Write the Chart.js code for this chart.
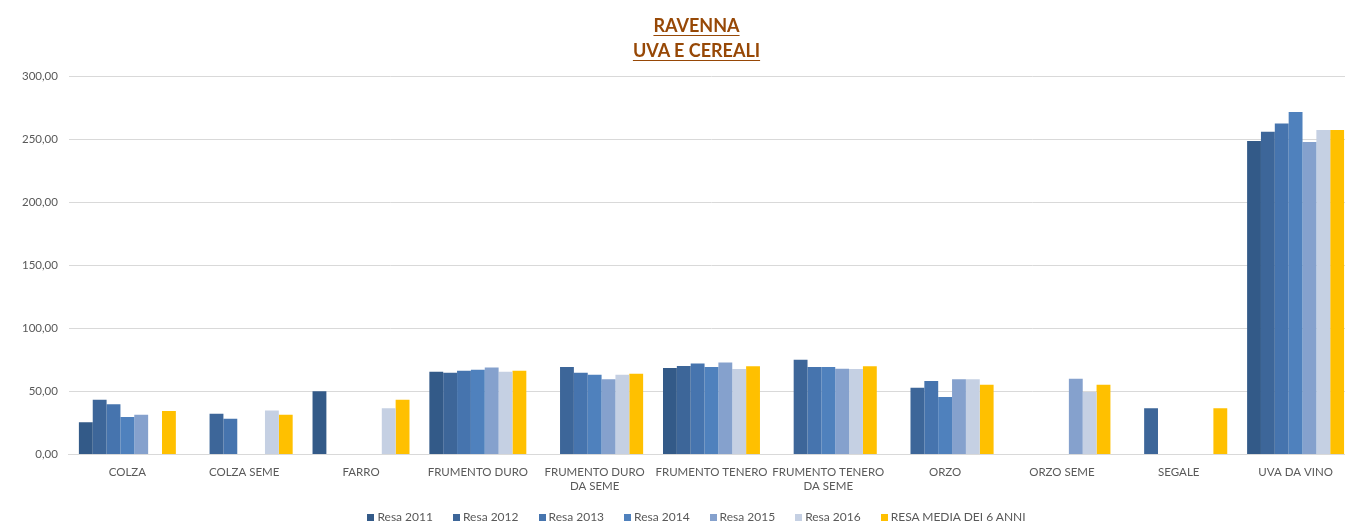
<!DOCTYPE html>
<html>
<head>
<meta charset="utf-8">
<script src="https://cdn.jsdelivr.net/npm/chart.js@4"></script>
<style>
    html, body { margin: 0; padding: 0; background: #fff; overflow: hidden; }
    #wrap { position: relative; width: 1345px; height: 523px; overflow: hidden; }
    #title {
        position: absolute; left: 24px; top: 13px; width: 1345px;
        text-align: center; font-family: Lato, sans-serif; font-weight: bold;
        font-size: 18px; line-height: 25px; color: #974806;
        text-decoration: underline; text-underline-offset: 3px;
    }
    #legend {
        position: absolute; left: 24px; top: 509px; width: 1345px;
        display: flex; justify-content: center; gap: 20px;
        font-family: Lato, sans-serif; font-size: 12px; color: #595959; line-height: 16px;
    }
    #legend span.item { display: inline-flex; align-items: center; white-space: nowrap; }
    #legend i { display: inline-block; width: 7px; height: 7px; margin-right: 3px; }
</style>
</head>
<body>
<div id="wrap">
    <!-- the original plot runs past the right edge of the picture, so the canvas is wider and clipped -->
    <canvas id="chart" width="1354" height="523"></canvas>
    <div id="title">RAVENNA<br>UVA E CEREALI</div>
    <div id="legend"></div>
</div>
<script>
// Categories and series (null = no bar)
const categories = [
    'COLZA', 'COLZA SEME', 'FARRO', 'FRUMENTO DURO', ['FRUMENTO DURO', 'DA SEME'],
    'FRUMENTO TENERO', ['FRUMENTO TENERO', 'DA SEME'], 'ORZO', 'ORZO SEME', 'SEGALE', 'UVA DA VINO'
];
const resa2011 = [25.4, null, 50.0, 65.6, null, 68.5, null, null, null, null, 248.4];
const resa2012 = [43.4, 32.3, null, 64.8, 69.3, 70.1, 75.1, 52.9, null, 36.5, 255.8];
const resa2013 = [39.7, 28.3, null, 66.4, 64.8, 72.0, 69.3, 58.2, null, null, 262.4];
const resa2014 = [29.6, null, null, 67.2, 63.2, 69.3, 69.3, 45.5, null, null, 271.4];
const resa2015 = [31.5, null, null, 68.8, 59.5, 72.8, 68.0, 59.5, 60.0, null, 247.6];
const resa2016 = [null, 34.9, 36.5, 65.6, 63.2, 67.7, 67.7, 59.5, 49.5, null, 257.1];
const resaMedia = [34.4, 31.5, 43.4, 66.4, 64.0, 69.8, 69.8, 55.3, 55.3, 36.5, 257.1];
const yTicks = [0, 50, 100, 150, 200, 250, 300];

const seriesNames = ['Resa 2011', 'Resa 2012', 'Resa 2013', 'Resa 2014', 'Resa 2015', 'Resa 2016', 'RESA MEDIA DEI 6 ANNI'];
const seriesData = [resa2011, resa2012, resa2013, resa2014, resa2015, resa2016, resaMedia];
const seriesColors = ['#335A88', '#3D6699', '#4674AE', '#4F81BD', '#85A1CD', '#C5D0E3', '#FFC000'];

const labelFont = { family: 'Lato, sans-serif', size: 11.5 };

// Legend as HTML (Excel spacing)
document.getElementById('legend').innerHTML = seriesNames.map((n, i) =>
    `<span class="item"><i style="background:${seriesColors[i]}"></i>${n}</span>`).join('');

new Chart(document.getElementById('chart'), {
    type: 'bar',
    data: {
        labels: categories,
        datasets: seriesData.map((d, i) => ({
            label: seriesNames[i],
            data: d,
            backgroundColor: seriesColors[i],
            borderWidth: 0,
            categoryPercentage: 0.83,
            barPercentage: 1
        }))
    },
    options: {
        responsive: false,
        animation: false,
        layout: { padding: { top: 76, right: 0, left: 11, bottom: 27 } },
        plugins: {
            title: { display: false },
            tooltip: { enabled: false },
            legend: { display: false }
        },
        scales: {
            x: {
                grid: { display: false },
                border: { color: '#D9D9D9' },
                ticks: {
                    color: '#595959', font: labelFont,
                    maxRotation: 0, autoSkip: false, padding: 3
                }
            },
            y: {
                min: 0, max: 300,
                afterBuildTicks: axis => { axis.ticks = yTicks.map(v => ({ value: v })); },
                grid: { color: '#D9D9D9', drawTicks: false },
                border: { display: false },
                ticks: {
                    color: '#595959', font: labelFont, padding: 11,
                    callback: v => v.toFixed(2).replace('.', ',')
                }
            }
        }
    }
});
</script>
</body>
</html>
